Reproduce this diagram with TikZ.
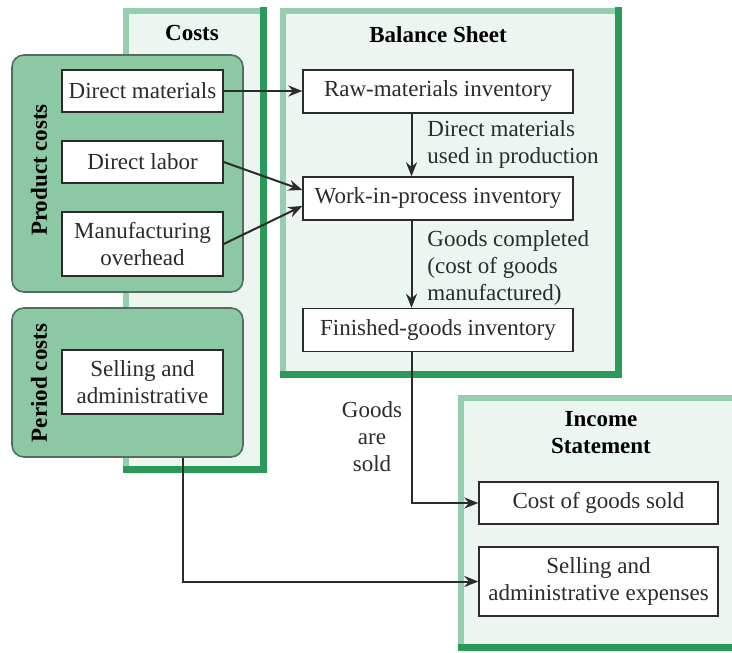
\documentclass[tikz,border=0pt]{standalone}
\usepackage{fontspec}
\setmainfont{Liberation Serif}
\usetikzlibrary{arrows.meta,calc}

\definecolor{sheetfill}{HTML}{ECF5EF}
\definecolor{sheetedge}{HTML}{94CEAD}
\definecolor{sheetdark}{HTML}{2A9A5A}
\definecolor{groupfill}{HTML}{8CC8A3}
\definecolor{groupedge}{HTML}{4F6E5C}
\definecolor{ink}{HTML}{2B2B2B}

\newcommand{\sheet}[4]{
    \fill[sheetfill] (#1,#2) rectangle (#3,#4);
    \draw[sheetedge, line width=3pt] (#1,#4) -- (#1,#2) -- (#3,#2);
    \draw[sheetdark, line width=3.5pt, line cap=rect] (#3,#2) -- (#3,#4) -- (#1,#4);
}
\tikzset{x=0.5pt, y=-0.5pt, every node/.append style={font=\fontsize{11.5}{13.5}\selectfont},
    item/.style={draw=ink, fill=white, line width=0.7pt, align=center, inner sep=0pt, text=ink},
    group/.style={draw=groupedge, fill=groupfill, rounded corners=6pt, line width=0.8pt},
    title/.style={font=\fontsize{11.5}{13.5}\selectfont\bfseries, align=center, text=black},
    note/.style={align=left, inner sep=0pt, text=ink},
    flow/.style={draw=ink, line width=1pt, -{Stealth[length=7pt,width=5.5pt]}}}

\begin{document}
\begin{tikzpicture}
                \useasboundingbox (0,0) rectangle (732,652);
                \sheet{126}{11}{263.5}{469.5}
                \sheet{283}{11}{618.5}{374.5}
                \sheet{461}{398}{745}{647.5}
                \node[title] (coststitle) at (192,33) {Costs};
                \node[title] (bstitle) at (438,35) {Balance Sheet};
                \node[title] (istitle) at (601,433) {Income\\Statement};

                \node[group, minimum width=115.5pt, minimum height=118.5pt] (product) at (127.5,173.5) {};
                \node[group, minimum width=115.5pt, minimum height=74.5pt] (period) at (127.5,382.5) {};
                \node[title, rotate=90] (productlbl) at (39,170) {Product costs};
                \node[title, rotate=90] (periodlbl) at (39,383) {Period costs};

                \node[item, minimum width=80.5pt, minimum height=21pt] (dm) at (142.5,91) {Direct materials};
                \node[item, minimum width=80.5pt, minimum height=21pt] (dl) at (142.5,162) {Direct labor};
                \node[item, minimum width=80.5pt, minimum height=32pt] (mo) at (142.5,244) {Manufacturing\\overhead};
                \node[item, minimum width=80.5pt, minimum height=32pt] (sa) at (142.5,382) {Selling and\\administrative};

                \node[item, minimum width=135pt, minimum height=21.5pt] (raw) at (438,91.5) {Raw-materials inventory};
                \node[item, minimum width=135pt, minimum height=21.5pt] (wip) at (438,198.5) {Work-in-process inventory};
                \node[item, minimum width=135pt, minimum height=21.5pt] (fg) at (438,330) {Finished-goods inventory};

                \node[item, minimum width=119.5pt, minimum height=21pt] (cogs) at (598.5,503) {Cost of goods sold};
                \node[item, minimum width=119.5pt, minimum height=34.5pt] (sae) at (598.5,581.5) {Selling and\\administrative expenses};

                \node[note, anchor=west] (usedlbl) at (427,144) {Direct materials\\used in production};
                \node[note, anchor=west] (donelbl) at (427,268) {Goods completed\\(cost of goods\\manufactured)};
                \node[note, align=center] (soldlbl) at (372,437) {Goods\\are\\sold};

                \coordinate (spine) at (411.5,0);
                \coordinate (saout) at (183,0);
                \draw[flow] (dm.east) -- (dm.east -| raw.west);
                \draw[flow] (dl.east) -- ($(wip.west)+(0,-8.5)$);
                \draw[flow] (mo.east) -- ($(wip.west)+(0,7.5)$);
                \draw[flow] (raw.south -| spine) -- (wip.north -| spine);
                \draw[flow] (wip.south -| spine) -- (fg.north -| spine);
                \draw[flow] (fg.south -| spine) |- (cogs.west);
                \draw[flow] (period.south -| saout) |- (sae.west);
            \end{tikzpicture}
\end{document}
